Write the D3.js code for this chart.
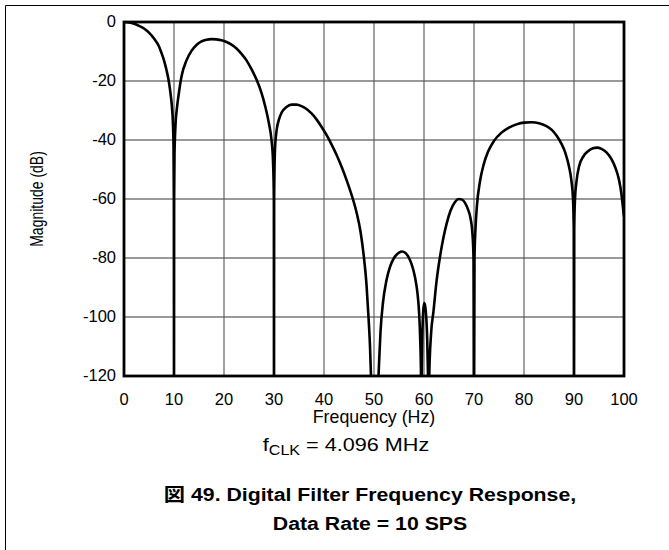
<!DOCTYPE html>
<html>
<head>
<meta charset="utf-8">
<script src="https://cdn.jsdelivr.net/npm/d3@7"></script>
<style>
  body { margin: 0; background: #fff; }
  text { font-family: "Liberation Sans", Arial, "Noto Sans CJK JP", sans-serif; fill: #000; }
</style>
</head>
<body>
<div id="chart"></div>
<script>
// frequency (Hz) and magnitude (dB); nulls go below the axis floor
var frequency = [
  0, 1, 2, 3, 4, 5, 6, 7, 7.5, 8, 8.5, 9, 9.3, 9.6, 9.8, 9.9, 9.97, 10,
  10.03, 10.1, 10.3, 10.6, 10.9, 11.5, 12.5, 13.5, 14.5, 15.5, 16.5, 17.5,
  18.5, 19.5, 20.5, 21.5, 22.5, 23.5, 24.5, 25.5, 26.5, 27.5, 28.3, 29, 29.5,
  29.8, 29.97, 30,
  30.03, 30.2, 30.5, 31, 31.5, 32.5, 33.5, 34.5, 35.5, 36.5, 37.5, 38.5, 39.5,
  40.5, 41.5, 42.5, 43.5, 44.5, 45.5, 46.5, 47.3, 48, 48.5, 48.9, 49.2, 49.4,
  50.15,
  50.9, 51.3, 51.8, 52.5, 53.2, 54, 55, 55.6, 56.3, 57, 57.6, 58.2, 58.7, 59,
  59.25, 59.4, 59.48,
  59.55, 59.7, 59.85, 60.05, 60.25, 60.45, 60.65, 60.8, 60.92,
  61.05, 61.4, 61.9, 62.5, 63.2, 63.9, 64.5, 65.3, 66.2, 67, 67.6, 68.2, 68.8,
  69.3, 69.7, 69.9, 70,
  70.1, 70.3, 70.6, 71.2, 71.9, 72.8, 74, 75.5, 77, 78.5, 80, 81.5, 83, 84.5,
  85.5, 86.5, 87.5, 88.3, 89, 89.5, 89.8, 89.95, 90,
  90.05, 90.2, 90.5, 91, 91.9, 92.8, 93.8, 94.6, 95.5, 96.5, 97.5, 98.3, 99,
  99.5, 99.8, 100
];
var magnitude = [
  0, -0.2, -0.6, -1.3, -2.2, -3.6, -5.6, -8.3, -10.5, -13, -16.3, -20.5, -24.2,
  -29, -35, -42, -60, -140,
  -60, -45, -35, -29, -25, -18.5, -13, -9.8, -7.8, -6.6, -6, -5.8,
  -5.9, -6.2, -6.8, -7.7, -9, -10.8, -13, -16, -19.5, -24, -29, -34.5, -40,
  -47, -60, -140,
  -60, -43, -37, -33, -30.8, -28.8, -28, -28, -28.5, -29.5, -31, -33, -35.5,
  -38.3, -41.5, -45, -49, -53.5, -58.5, -64.5, -71, -80, -89, -100, -110, -120,
  -140,
  -120, -105, -95, -87.5, -83, -80, -78.2, -77.8, -78.3, -80, -82.5, -86.5, -92,
  -98, -108, -120, -135,
  -120, -104, -98, -95.3, -96.5, -100, -108, -120, -135,
  -120, -106, -98, -88, -79.6, -73, -68.5, -64, -61, -60, -60.2, -61.3, -63.5,
  -66.5, -72, -80, -140,
  -80, -70, -62, -54, -48.5, -44, -40.3, -37.5, -35.8, -34.7, -34.1, -34, -34.3,
  -35.3, -36.5, -38.5, -41.3, -44.5, -49, -54, -60, -70, -140,
  -70, -60, -54, -49, -45.5, -43.8, -42.8, -42.6, -43, -44.2, -46.5, -49.5, -53.5,
  -58.5, -63, -66
];
var xTicks = [0, 10, 20, 30, 40, 50, 60, 70, 80, 90, 100];
var yTicks = [0, -20, -40, -60, -80, -100, -120];
var xTitle = "Frequency (Hz)";
var yTitle = "Magnitude (dB)";
var captionLines = ["図 49. Digital Filter Frequency Response,", "Data Rate = 10 SPS"];

var width = 669,
  height = 550;
var plot = { left: 124, right: 624, top: 22, bottom: 376 };

var svg = d3
  .select("#chart")
  .append("svg")
  .attr("width", width)
  .attr("height", height);

var x = d3.scaleLinear().domain([0, 100]).range([plot.left, plot.right]);
var y = d3.scaleLinear().domain([-120, 0]).range([plot.bottom, plot.top]);

// page box edges
svg.append("line").attr("x1", 5.5).attr("x2", width).attr("y1", 5.5).attr("y2", 5.5)
  .attr("stroke", "#000").attr("stroke-width", 1);
svg.append("line").attr("x1", 5.5).attr("x2", 5.5).attr("y1", 5.5).attr("y2", height)
  .attr("stroke", "#000").attr("stroke-width", 1);

// grid
svg.append("g")
  .selectAll("line")
  .data(yTicks)
  .enter()
  .append("line")
  .attr("x1", plot.left)
  .attr("x2", plot.right)
  .attr("y1", function (d) { return y(d); })
  .attr("y2", function (d) { return y(d); })
  .attr("stroke", "#777")
  .attr("stroke-width", 1.4);

svg.append("g")
  .selectAll("line")
  .data(xTicks)
  .enter()
  .append("line")
  .attr("x1", function (d) { return x(d); })
  .attr("x2", function (d) { return x(d); })
  .attr("y1", plot.top)
  .attr("y2", plot.bottom)
  .attr("stroke", "#555")
  .attr("stroke-width", 1.1);

// curve
svg.append("clipPath")
  .attr("id", "plot-clip")
  .append("rect")
  .attr("x", plot.left)
  .attr("y", plot.top)
  .attr("width", plot.right - plot.left)
  .attr("height", plot.bottom - plot.top);

var points = frequency.map(function (f, i) {
  return [f, magnitude[i]];
});
var line = d3
  .line()
  .x(function (d) { return x(d[0]); })
  .y(function (d) { return y(d[1]); })
  .curve(d3.curveMonotoneX);

svg.append("path")
  .datum(points)
  .attr("clip-path", "url(#plot-clip)")
  .attr("fill", "none")
  .attr("stroke", "#000")
  .attr("stroke-width", 2.6)
  .attr("stroke-linejoin", "round")
  .attr("d", line);

// frame
svg.append("rect")
  .attr("x", plot.left)
  .attr("y", plot.top)
  .attr("width", plot.right - plot.left)
  .attr("height", plot.bottom - plot.top)
  .attr("fill", "none")
  .attr("stroke", "#000")
  .attr("stroke-width", 2.8);

// text, with an optional sideways stretch as in the source
function addText(px, py, anchor, size, stretch, weight) {
  return svg
    .append("text")
    .attr("transform", "translate(" + px + "," + py + ") scale(" + stretch + ",1)")
    .attr("text-anchor", anchor)
    .attr("font-size", size)
    .attr("font-weight", weight || "normal");
}

yTicks.forEach(function (d) {
  addText(116, y(d) + 5, "end", 16.5, 1).text(d);
});
xTicks.forEach(function (d) {
  addText(x(d), 404.5, "middle", 16.5, 1).text(d);
});

addText(374, 423, "middle", 17.8, 1).text(xTitle);

// rotated title: the sideways stretch makes its glyphs taller on screen
svg.append("text")
  .attr("transform", "translate(43," + (plot.top + plot.bottom) / 2 + ") rotate(-90) scale(1,1.3)")
  .attr("text-anchor", "middle")
  .attr("font-size", 14)
  .text(yTitle);

var fclk = addText(346, 450.5, "middle", 18.8, 1.15);
fclk.append("tspan").text("f");
fclk.append("tspan").attr("font-size", 14).attr("dy", 4).text("CLK");
fclk.append("tspan").attr("dy", -4).text(" = 4.096 MHz");

captionLines.forEach(function (t, i) {
  addText(370, 501 + i * 28.5, "middle", 18.5, 1.15, "bold").text(t);
});
</script>
</body>
</html>
